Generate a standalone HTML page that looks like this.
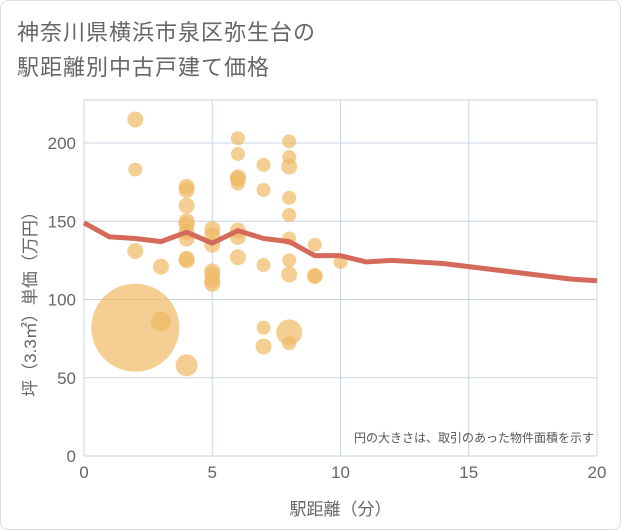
<!DOCTYPE html>
<html><head><meta charset="utf-8"><style>
body{margin:0;background:#fff;}
#wrap{position:relative;width:619px;height:528px;border:1px solid #ddd;border-radius:8px;background:#fff;overflow:hidden;font-family:"Liberation Sans","Noto Sans CJK JP",sans-serif;}
.title{position:absolute;left:16px;top:14px;font-size:22px;line-height:35px;color:#666;letter-spacing:1px;}
</style></head><body>
<div id="wrap">
<div class="title">神奈川県横浜市泉区弥生台の<br>駅距離別中古戸建て価格</div>
<svg id="svg" width="621" height="530" style="position:absolute;left:-1px;top:-1px"></svg>
</div>
<script>
const xTicks=[0,5,10,15,20];
const yTicks=[0,50,100,150,200];
const bubbleX=[2,2,2,2,3,3,4,4,4,4,4,4,4,4,4,4,5,5,5,5,5,5,5,6,6,6,6,6,6,6,6,7,7,7,7,7,8,8,8,8,8,8,8,8,8,8,9,9,9,10];
const bubbleY=[215,183,131,82,121,86,172,170,160,150,148,143,139,126,125,58,145,141,135,118,116,112,110,203,193,178,177,174,144,140,127,186,170,122,82,70,201,191,185,165,154,139,125,116,79,72,135,115,115,124];
const bubbleR=[8,7,8,44,8,10,8,8,8,8,8,8,8,8,8,11,8,8,8,8,8,8,8,7,7,8,8,7,8,8,8,7,7,7,7,8,7,7,8,7,7,7,7,8,13,7,7,8,7,7];
const lineX=[0,1,2,3,4,5,6,7,8,9,10,11,12,13,14,15,16,17,18,19,20];
const lineY=[149,140,139,137,143,136,144,139,137,128,128,124,125,124,123,121,119,117,115,113,112];
const X0=84,X1=597,Y0=456,Y1=143;
const sx=v=>X0+(X1-X0)*v/20;
const sy=v=>Y0-(Y0-Y1)*v/200;
const svg=document.getElementById('svg');
const NS='http://www.w3.org/2000/svg';
function mk(t,a){const e=document.createElementNS(NS,t);for(const k in a)e.setAttribute(k,a[k]);svg.appendChild(e);return e;}
const plotTop=100;
xTicks.forEach(v=>{const l=mk('line',{x1:sx(v),x2:sx(v),y1:plotTop,y2:Y0,stroke:'#c8d4e4','stroke-width':1});


const t=mk('text',{x:sx(v),y:Y0+22,'text-anchor':'middle','font-size':17,fill:'#666'});t.textContent=v;

});
yTicks.forEach(v=>{const l=mk('line',{x1:X0,x2:X1,y1:sy(v),y2:sy(v),stroke:'#c8d4e4','stroke-width':1});


const t=mk('text',{x:X0-8,y:sy(v)+6,'text-anchor':'end','font-size':17,fill:'#666'});t.textContent=v;

});
const plotBorder=mk('line',{x1:X0,x2:X1,y1:plotTop,y2:plotTop,stroke:'#ccc','stroke-width':1});


bubbleX.forEach((v,i)=>{const c=mk('circle',{cx:sx(v),cy:sy(bubbleY[i]),r:bubbleR[i],fill:'rgba(240,185,100,0.7)'});

});
const p=mk('polyline',{points:lineX.map((v,i)=>sx(v)+','+sy(lineY[i])).join(' '),fill:'none',stroke:'#d46a5a','stroke-width':5,'stroke-linejoin':'round'});


const n=mk('text',{x:594,y:442,'text-anchor':'end','font-size':12,fill:'#555'});n.textContent='円の大きさは、取引のあった物件面積を示す';


const xt=mk('text',{x:sx(10),y:515,'text-anchor':'middle','font-size':17,fill:'#666'});xt.textContent='駅距離（分）';


const yt=mk('text',{x:0,y:0,'text-anchor':'middle','font-size':17,fill:'#666',transform:'translate(36,300) rotate(-90)'});yt.textContent='坪（3.3㎡）単価（万円）';


</script>
</body></html>
